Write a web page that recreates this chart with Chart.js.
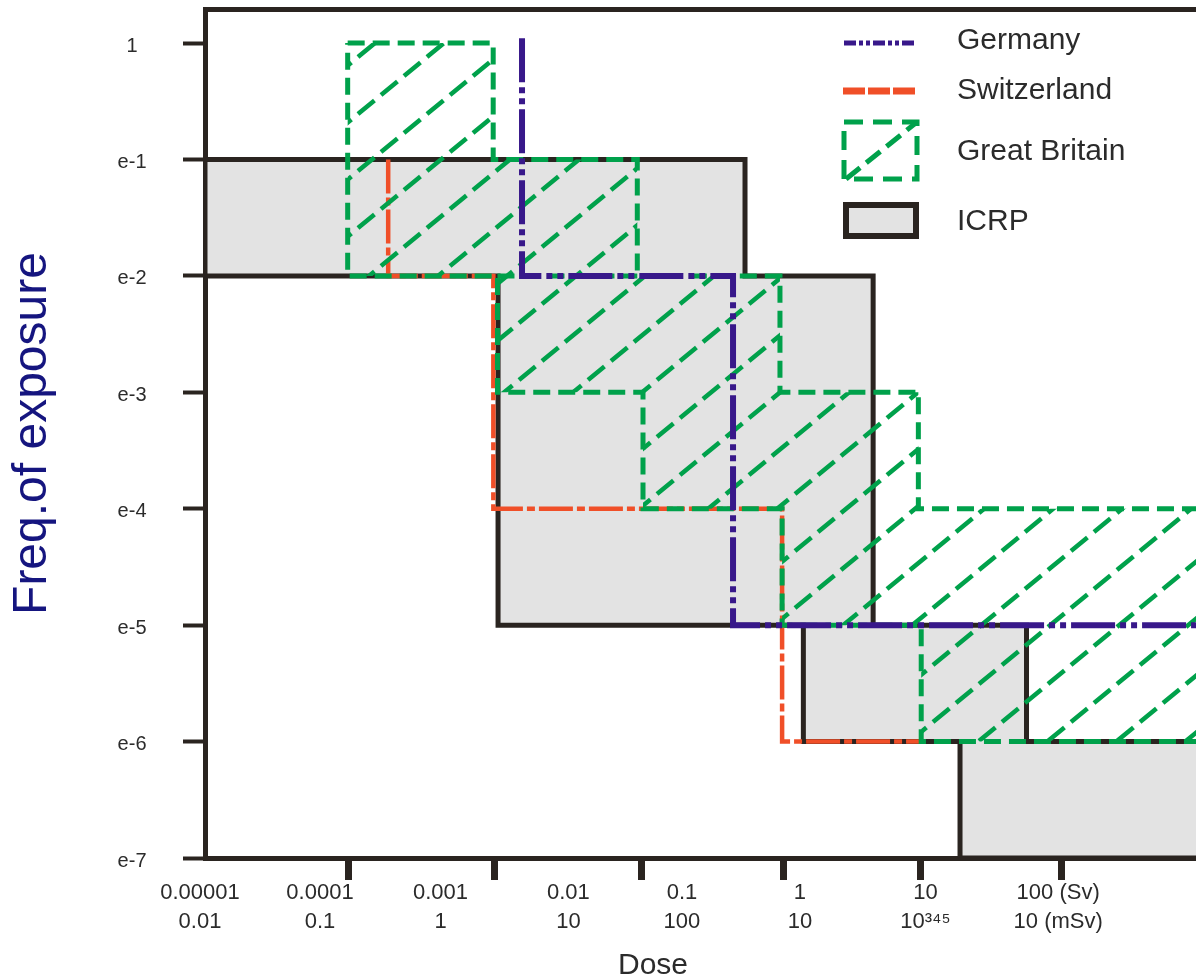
<!DOCTYPE html>
<html><head><meta charset="utf-8">
<style>html,body{margin:0;padding:0;background:#fff;overflow:hidden}canvas{display:block}</style>
<script src="https://cdn.jsdelivr.net/npm/chart.js@4.4.1/dist/chart.umd.min.js"></script>
</head><body>
<canvas id="c" width="1196" height="979"></canvas>
<script>
// ---------------- data ----------------
// x: position along the dose axis, in units of the axis tick spacing (0 = left edge)
// y: frequency of exposure
const seriesNames = ['Germany', 'Switzerland', 'Great Britain', 'ICRP'];
const yTickValues = [1, 1e-1, 1e-2, 1e-3, 1e-4, 1e-5, 1e-6, 1e-7];
const yTickLabels = ['1', 'e-1', 'e-2', 'e-3', 'e-4', 'e-5', 'e-6', 'e-7'];
const xTickValues = [1.005, 2.027, 3.058, 4.058, 5.012, 6.0];
const xLabelValues = [-0.035, 0.806, 1.651, 2.547, 3.343, 4.17, 5.05, 5.98];
const xLabelsSv = ['0.00001', '0.0001', '0.001', '0.01', '0.1', '1', '10', '100 (Sv)'];
const xLabelsMSv = ['0.01', '0.1', '1', '10', '100', '10', '10³⁴⁵', '10 (mSv)'];
const yAxisTitle = 'Freq.of exposure';
const xAxisTitle = 'Dose';

const germanyX = [2.222, 2.222, 3.701, 3.701, 7.5];
const germanyY = [1.1, 1e-2, 1e-2, 1e-5, 1e-5];

const switzerlandX = [1.284, 1.284, 2.021, 2.021, 4.045, 4.045, 5.01];
const switzerlandY = [1e-1, 1e-2, 1e-2, 1e-4, 1e-4, 1e-6, 1e-6];

const britainX = [1.0, 2.02, 2.02, 3.03, 3.03, 4.03, 4.03, 5.0, 5.0, 7.5, 7.5, 5.02, 5.02, 4.045, 4.045, 3.07, 3.07, 2.05, 2.05, 1.0, 1.0];
const britainY = [1, 1, 1e-1, 1e-1, 1e-2, 1e-2, 1e-3, 1e-3, 1e-4, 1e-4, 1e-6, 1e-6, 1e-5, 1e-5, 1e-4, 1e-4, 1e-3, 1e-3, 1e-2, 1e-2, 1];
const britainInnerX = [2.05, 3.03];
const britainInnerY = [1e-2, 1e-2];

const icrpX = [0, 3.785, 3.785, 4.683, 4.683, 5.758, 5.758, 7.5, 7.5, 5.292, 5.292, 4.194, 4.194, 2.054, 2.054, 0, 0];
const icrpY = [1e-1, 1e-1, 1e-2, 1e-2, 1e-5, 1e-5, 1e-6, 1e-6, 1e-7, 1e-7, 1e-6, 1e-6, 1e-5, 1e-5, 1e-2, 1e-2, 1e-1];

const xMin = 0, xMax = 6.946;
const yMin = 1e-7, yMax = 1.96;

// ---------------- styles ----------------
const FONT = '"Liberation Sans", Arial, Helvetica, sans-serif';
const DARK = '#2a2420';
const GRAY = '#e3e3e3';
const GREEN = '#00a14b';
const PURPLE = '#38188a';
const RED = '#f04f28';
const NAVY = '#15157f';
const TEXT = '#2b2b2b';

const pts = (xs, ys) => xs.map((x, i) => ({x: x, y: ys[i]}));

function makeHatch(color) {
  const W = 69, H = 57;
  const c = document.createElement('canvas');
  c.width = W; c.height = H;
  const g = c.getContext('2d');
  const L = Math.hypot(W, H);
  g.strokeStyle = color;
  g.lineWidth = 4.5;
  g.lineCap = 'butt';
  g.setLineDash([L / 3 - 8.5, 8.5]);
  for (const dx of [-W, 0, W]) {
    g.beginPath();
    g.moveTo(-W + dx, 2 * H);
    g.lineTo(2 * W + dx, -H);
    g.stroke();
  }
  const p = g.createPattern(c, 'repeat');
  p.setTransform(new DOMMatrix([1, 0, 0, 1, 13, 0]));
  return p;
}
const hatch = makeHatch(GREEN);

const common = {pointRadius: 0, pointHoverRadius: 0, tension: 0, borderJoinStyle: 'miter', borderCapStyle: 'butt'};

const datasets = [
  Object.assign({label: seriesNames[0], data: pts(germanyX, germanyY), borderColor: PURPLE, borderWidth: 6,
    borderDash: [44, 5, 6, 5, 6, 5], fill: false, order: 0}, common),
  Object.assign({label: seriesNames[2], data: pts(britainX, britainY), borderColor: GREEN, borderWidth: 5,
    borderDash: [17, 8], backgroundColor: hatch, fill: 'shape', order: 1}, common),
  Object.assign({label: seriesNames[2] + ' (edge)', data: pts(britainInnerX, britainInnerY), borderColor: GREEN, borderWidth: 5,
    borderDash: [17, 8], fill: false, order: 1}, common),
  Object.assign({label: seriesNames[1], data: pts(switzerlandX, switzerlandY), borderColor: RED, borderWidth: 4.5,
    borderDash: [34, 4, 8, 4], fill: false, order: 2}, common),
  Object.assign({label: seriesNames[3], data: pts(icrpX, icrpY), borderColor: DARK, borderWidth: 5,
    backgroundColor: GRAY, fill: 'shape', order: 3}, common)
];

const overlayPlugin = {
  id: 'overlay',
  afterDraw(chart) {
    const ctx = chart.ctx;
    ctx.save();
    // x axis title
    ctx.fillStyle = TEXT;
    ctx.font = '30px ' + FONT;
    ctx.textAlign = 'center';
    ctx.textBaseline = 'middle';
    ctx.fillText(xAxisTitle, 653, 966);

    // legend
    const sx0 = 844, sx1 = 917, tx = 957;
    const ge = chart.data.datasets[0], sw = chart.data.datasets[3], gb = chart.data.datasets[1], ic = chart.data.datasets[4];
    ctx.lineCap = 'butt';
    // Germany
    ctx.strokeStyle = ge.borderColor; ctx.lineWidth = 5; ctx.setLineDash([12, 3, 4, 3, 4, 3]);
    ctx.beginPath(); ctx.moveTo(sx0, 43); ctx.lineTo(sx1, 43); ctx.stroke();
    // Switzerland
    ctx.strokeStyle = sw.borderColor; ctx.lineWidth = 7; ctx.setLineDash([22, 3]);
    ctx.beginPath(); ctx.moveTo(sx0 - 1, 91); ctx.lineTo(sx1 + 1, 91); ctx.stroke();
    // Great Britain
    ctx.strokeStyle = gb.borderColor; ctx.lineWidth = 5; ctx.setLineDash([19, 10]);
    ctx.strokeRect(sx0, 122, sx1 - sx0, 57);
    ctx.setLineDash([18, 8]);
    ctx.beginPath(); ctx.moveTo(sx0 + 2, 179); ctx.lineTo(sx1, 122); ctx.stroke();
    // ICRP
    ctx.setLineDash([]);
    ctx.fillStyle = ic.backgroundColor; ctx.fillRect(sx0, 205, sx1 - sx0, 31);
    ctx.strokeStyle = ic.borderColor; ctx.lineWidth = 6; ctx.strokeRect(sx0 + 2, 205, sx1 - sx0 - 3, 31);

    ctx.fillStyle = TEXT;
    ctx.font = '30px ' + FONT;
    ctx.textAlign = 'left';
    ctx.textBaseline = 'middle';
    ctx.fillText(seriesNames[0], tx, 41);
    ctx.fillText(seriesNames[1], tx, 91);
    ctx.fillText(seriesNames[2], tx, 152);
    ctx.fillText(seriesNames[3], tx, 222);
    ctx.restore();
  }
};

Chart.defaults.font.family = FONT;
Chart.defaults.color = TEXT;

new Chart(document.getElementById('c'), {
  type: 'line',
  data: {datasets: datasets},
  options: {
    responsive: false,
    animation: false,
    events: [],
    layout: {padding: {top: 9, right: 0, bottom: 0, left: 0}},
    plugins: {
      legend: {display: false},
      tooltip: {enabled: false},
      filler: {drawTime: 'beforeDatasetDraw'}
    },
    scales: {
      x: {
        type: 'linear', position: 'bottom', min: xMin, max: xMax, bounds: 'data', weight: 0,
        afterBuildTicks: s => { s.ticks = xTickValues.map(v => ({value: v})); },
        afterFit: s => { s.height = 22; s.paddingLeft = 0; s.paddingRight = 0; },
        grid: {display: true, drawOnChartArea: false, drawTicks: true, tickLength: 22, tickWidth: 7, tickColor: DARK, color: DARK},
        border: {display: true, width: 5, color: DARK},
        ticks: {display: false}
      },
      xl: {
        type: 'linear', position: 'bottom', min: xMin, max: xMax, bounds: 'data', weight: 1,
        afterBuildTicks: s => { s.ticks = xLabelValues.map(v => ({value: v})); },
        afterFit: s => { s.height = 99; s.paddingLeft = 0; s.paddingRight = 0; },
        grid: {display: false, drawTicks: false},
        border: {display: false},
        ticks: {
          autoSkip: false, maxRotation: 0, minRotation: 0, padding: -1.5, color: TEXT,
          font: {family: FONT, size: 22, lineHeight: 1.32},
          callback: (v, i) => [xLabelsSv[i], xLabelsMSv[i]]
        }
      },
      xtop: {
        type: 'linear', position: 'top', min: xMin, max: xMax, bounds: 'data',
        afterFit: s => { s.height = 0; s.paddingLeft = 0; s.paddingRight = 0; },
        grid: {display: false, drawTicks: false},
        border: {display: true, width: 5, color: DARK},
        ticks: {display: false}
      },
      y: {
        type: 'logarithmic', position: 'left', min: yMin, max: yMax, bounds: 'data',
        afterBuildTicks: s => { s.ticks = yTickValues.map(v => ({value: v})); },
        afterFit: s => { s.width = 205; s.paddingTop = 0; s.paddingBottom = 0; },
        grid: {display: true, drawOnChartArea: false, drawTicks: true, tickLength: 22, tickWidth: 4, tickColor: DARK, color: DARK},
        border: {display: true, width: 5, color: DARK},
        ticks: {
          crossAlign: 'center', padding: 36.5, labelOffset: 3, color: TEXT,
          font: {family: FONT, size: 20},
          callback: (v, i) => yTickLabels[i]
        },
        title: {display: true, text: yAxisTitle, color: NAVY, font: {family: FONT, size: 48, lineHeight: 1.2}, padding: {top: 4, bottom: 0}}
      }
    }
  },
  plugins: [overlayPlugin]
});
</script>
</body></html>
